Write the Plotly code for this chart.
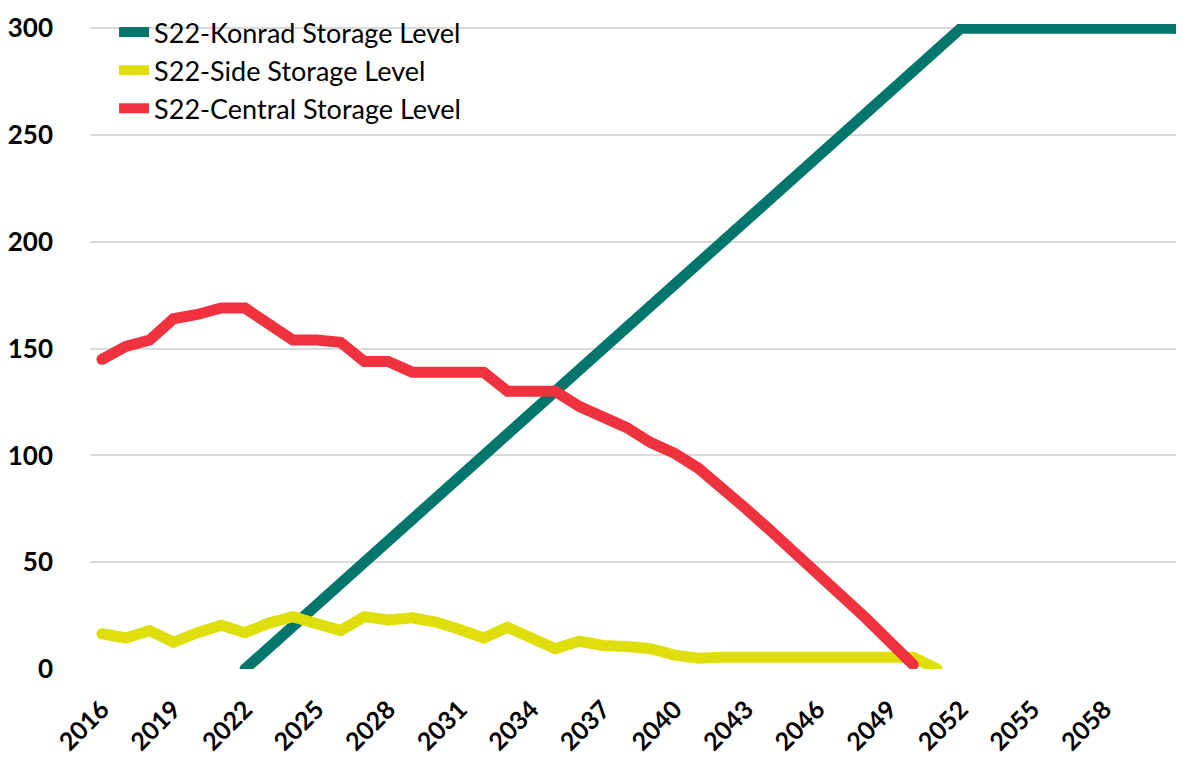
import plotly.graph_objects as go

# Years on the category axis
years = list(range(2016, 2062))

# S22-Konrad storage level (starts in 2022, full at 2052)
konrad_years = list(range(2022, 2062))
konrad_level = [0, 10, 20, 30, 40, 50, 60, 70, 80, 90,
                100, 110, 120, 130, 140, 150, 160, 170, 180, 190,
                200, 210, 220, 230, 240, 250, 260, 270, 280, 290,
                300, 300, 300, 300, 300, 300, 300, 300, 300, 300]

# S22-Side storage level (2016-2051)
side_years = list(range(2016, 2052))
side_level = [16.5, 14.5, 18, 12.5, 17, 20.5, 17, 21.5, 24.5, 21.5,
              18, 24.5, 23, 24, 22, 18.5, 14.5, 19.5, 15, 9.5,
              13, 11, 10.5, 9.5, 6.5, 5, 5.5, 5.5, 5.5, 5.5,
              5.5, 5.5, 5.5, 5.5, 5.5, 0]

# S22-Central storage level (2016-2050)
central_years = list(range(2016, 2051))
central_level = [145, 151, 154, 164, 166, 169, 169, 161, 154, 154,
                 153, 144, 144, 139, 139, 139, 139, 130, 130, 130,
                 123, 118, 113, 106, 101, 94, 85, 75, 65, 55,
                 44, 34, 24, 13, 2]

tick_years = list(range(2016, 2059, 3))
y_ticks = [0, 50, 100, 150, 200, 250, 300]

FONT = "Lato"
LW = 11

fig = go.Figure()
series = [
    (konrad_years, konrad_level, "S22-Konrad Storage Level", "#00766C"),
    (side_years, side_level, "S22-Side Storage Level", "#DEDE0A"),
    (central_years, central_level, "S22-Central Storage Level", "#F0323F"),
]
for xs, ys, name, color in series:
    fig.add_trace(go.Scatter(
        x=xs, y=ys, mode="lines", name=name,
        line=dict(color=color, width=LW),
    ))
    # round line ends, like the rounded caps in the original
    fig.add_trace(go.Scatter(
        x=[xs[0], xs[-1]], y=[ys[0], ys[-1]], mode="markers",
        showlegend=False, hoverinfo="skip",
        marker=dict(color=color, size=LW, line=dict(width=0)),
    ))

fig.update_layout(
    width=1176,
    height=755,
    autosize=False,
    margin=dict(l=80, r=0, t=4, b=94),
    plot_bgcolor="white",
    paper_bgcolor="white",
    font=dict(family=FONT, color="black"),
    legend=dict(x=0.022, y=1.025, xanchor="left", yanchor="top",
                bgcolor="rgba(0,0,0,0)", tracegroupgap=0,
                font=dict(family=FONT, size=27, color="black")),
    xaxis=dict(
        range=[2015.5, 2061.35],
        tickmode="array",
        tickvals=tick_years,
        ticktext=[str(y) for y in tick_years],
        tickangle=-45,
        tickfont=dict(family=FONT, size=25, color="black", weight="bold"),
        showgrid=False,
        zeroline=False,
        showline=False,
        ticklabelstandoff=20,
        ticklabeloverflow="allow",
    ),
    yaxis=dict(
        range=[0, 302],
        tickmode="array",
        tickvals=y_ticks,
        tickfont=dict(family=FONT, size=26, color="black", weight="bold"),
        showgrid=True,
        gridcolor="#D9D9D9",
        gridwidth=2,
        zeroline=False,
        showline=False,
        ticklabelstandoff=36,
        ticklabeloverflow="allow",
    ),
)

fig.write_html("out.html")
